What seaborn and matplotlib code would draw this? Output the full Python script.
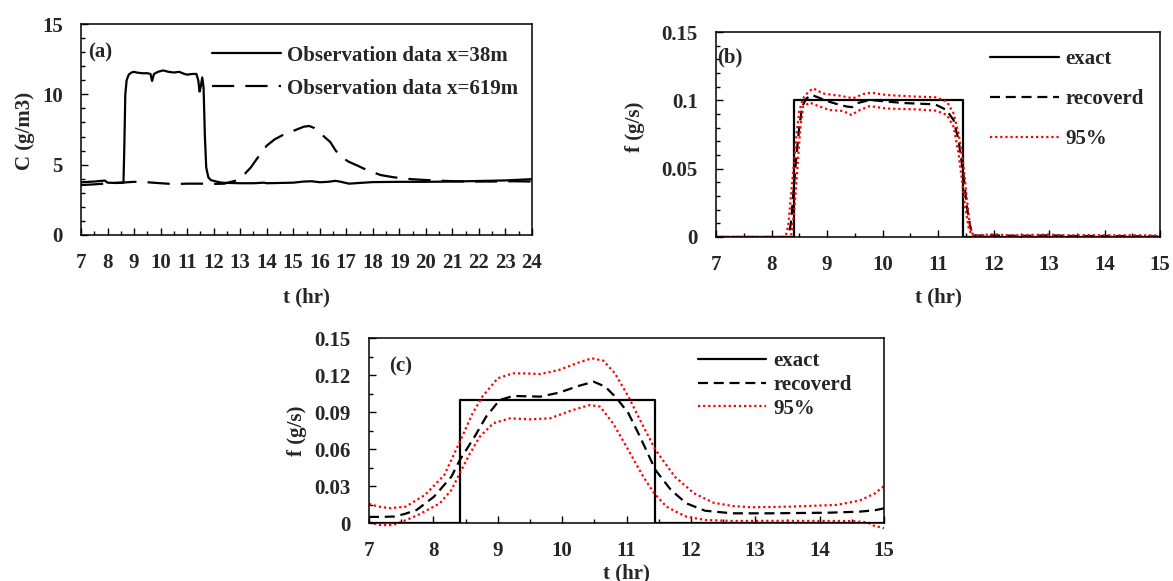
import numpy as np
import pandas as pd
import matplotlib
matplotlib.use("Agg")
import matplotlib.pyplot as plt
import seaborn as sns
from matplotlib.ticker import MultipleLocator, FuncFormatter

# ---------------- data ----------------
# Panel (a): observation data
a_t38 = [7.0, 7.5, 7.9, 8.0, 8.3, 8.6, 8.63, 8.67, 8.72, 8.8, 8.9, 9.0, 9.1, 9.3, 9.5, 9.62, 9.68,
         9.75, 9.9, 10.0, 10.1, 10.3, 10.5, 10.7, 10.9, 11.0, 11.2, 11.35, 11.42, 11.47, 11.52, 11.57,
         11.62, 11.67, 11.72, 11.8, 11.9, 12.1, 12.3, 12.6, 13.0, 13.5, 13.9, 14.0, 14.5, 15.0, 15.4,
         15.7, 16.0, 16.3, 16.6, 16.8, 17.1, 17.5, 18.0, 19.0, 20.0, 21.0, 22.0, 23.0, 24.0]
a_c38 = [3.75, 3.8, 3.87, 3.72, 3.7, 3.72, 6.0, 10.0, 11.0, 11.4, 11.55, 11.6, 11.55, 11.5, 11.5, 11.45, 10.95,
         11.45, 11.6, 11.65, 11.7, 11.6, 11.55, 11.6, 11.45, 11.4, 11.45, 11.45, 11.0, 10.2, 10.6, 11.2,
         10.5, 7.0, 4.8, 4.1, 3.9, 3.8, 3.72, 3.7, 3.68, 3.68, 3.72, 3.68, 3.7, 3.72, 3.8,
         3.82, 3.75, 3.78, 3.85, 3.78, 3.65, 3.7, 3.76, 3.78, 3.78, 3.8, 3.84, 3.88, 3.97]
a_t619 = [7.0, 7.5, 8.0, 8.5, 9.0, 9.5, 10.0, 10.5, 11.0, 11.5, 12.0, 12.4, 12.8, 13.1, 13.4, 13.7, 14.0,
          14.3, 14.6, 15.0, 15.4, 15.6, 15.8, 16.1, 16.4, 16.6, 16.8, 17.1, 17.4, 17.8, 18.3, 18.8,
          19.5, 20.5, 21.5, 22.5, 23.3, 24.0]
a_c619 = [3.55, 3.6, 3.67, 3.72, 3.78, 3.75, 3.68, 3.62, 3.65, 3.65, 3.63, 3.65, 3.85, 4.2, 4.8, 5.6, 6.35,
          6.8, 7.1, 7.4, 7.7, 7.75, 7.6, 7.1, 6.6, 6.0, 5.55, 5.2, 4.95, 4.6, 4.26, 4.1,
          3.96, 3.86, 3.8, 3.8, 3.82, 3.8]

# Panel (b)
b_exact_t = [7.0, 8.41, 8.41, 11.45, 11.45, 15.0]
b_exact_f = [0.0, 0.0, 0.1, 0.1, 0.0, 0.0]
b_rec_t = [7.0, 8.3, 8.35, 8.4, 8.45, 8.5, 8.55, 8.62, 8.72, 8.85, 9.0, 9.2, 9.35, 9.45, 9.55, 9.7, 9.85,
           10.1, 10.4, 10.7, 10.95, 11.15, 11.28, 11.37, 11.47, 11.52, 11.58, 11.62, 11.7, 12.0, 12.5,
           13.0, 13.5, 14.0, 14.5, 15.0]
b_rec_f = [0.0, 0.0, 0.01, 0.035, 0.06, 0.08, 0.095, 0.101, 0.104, 0.102, 0.0995, 0.097, 0.0955, 0.095,
           0.098, 0.0995, 0.1, 0.099, 0.098, 0.0975, 0.097, 0.093, 0.0856, 0.071, 0.042, 0.022, 0.008,
           0.002, 0.001, 0.0012, 0.0008, 0.0012, 0.0006, 0.0008, 0.0005, 0.0005]
b_up_t = [7.0, 8.25, 8.3, 8.35, 8.4, 8.45, 8.5, 8.57, 8.66, 8.75, 8.93, 9.1, 9.23, 9.47, 9.65, 9.8, 10.07,
          10.61, 10.97, 11.16, 11.28, 11.37, 11.46, 11.52, 11.58, 11.64, 11.8, 12.0, 12.3, 12.6, 13.0,
          13.3, 13.7, 14.0, 14.4, 14.8, 15.0]
b_up_f = [0.0, 0.0, 0.008, 0.03, 0.052, 0.075, 0.092, 0.1015, 0.106, 0.1088, 0.105, 0.104, 0.1034, 0.1015,
          0.1046, 0.1056, 0.1039, 0.1027, 0.1022, 0.099, 0.0905, 0.0759, 0.052, 0.028, 0.0065, 0.001,
          0.0015, 0.002, 0.0012, 0.0015, 0.0018, 0.0012, 0.0014, 0.0012, 0.0013, 0.0012, 0.001]
b_lo_t = [7.0, 8.35, 8.4, 8.44, 8.48, 8.52, 8.57, 8.69, 8.87, 9.05, 9.29, 9.44, 9.59, 9.77, 10.07, 10.61,
          10.97, 11.16, 11.28, 11.37, 11.43, 11.49, 11.55, 11.61, 12.0, 15.0]
b_lo_f = [0.0, 0.0, 0.015, 0.035, 0.058, 0.08, 0.0954, 0.0983, 0.0954, 0.0929, 0.0922, 0.0893, 0.0929,
          0.0958, 0.094, 0.0934, 0.0924, 0.0893, 0.0807, 0.061, 0.042, 0.022, 0.007, 0.001, 0.0, 0.0]

# Panel (c)
c_exact_t = [7.0, 8.41, 8.41, 11.44, 11.44, 15.0]
c_exact_f = [0.0, 0.0, 0.1, 0.1, 0.0, 0.0]
c_rec_t = [7.0, 7.2, 7.39, 7.55, 7.74, 8.01, 8.28, 8.41, 8.64, 8.82, 9.03, 9.24, 9.45, 9.66, 9.95, 10.25,
           10.49, 10.67, 10.85, 11.03, 11.21, 11.45, 11.69, 11.93, 12.22, 12.64, 13.24, 14.14, 14.61,
           14.85, 15.0]
c_rec_f = [0.0052, 0.0052, 0.0055, 0.0075, 0.0108, 0.0216, 0.0378, 0.0513, 0.0702, 0.0865, 0.1, 0.1032,
           0.103, 0.1027, 0.1059, 0.1113, 0.1148, 0.1108, 0.1013, 0.0892, 0.0702, 0.0432, 0.027, 0.0162,
           0.0102, 0.0081, 0.0081, 0.0086, 0.0094, 0.0105, 0.0121]
c_up_t = [7.0, 7.15, 7.33, 7.57, 7.87, 8.17, 8.4, 8.61, 8.76, 9.0, 9.24, 9.45, 9.66, 9.95, 10.25, 10.46,
          10.64, 10.82, 11.03, 11.21, 11.45, 11.75, 12.05, 12.35, 12.65, 12.95, 13.54, 14.26, 14.62,
          14.86, 15.0]
c_up_f = [0.0157, 0.0135, 0.0122, 0.0135, 0.023, 0.0392, 0.0649, 0.0892, 0.1027, 0.1176, 0.1216, 0.1215,
          0.121, 0.1243, 0.1302, 0.1338, 0.1319, 0.1216, 0.1027, 0.0838, 0.0595, 0.0378, 0.0243, 0.0167,
          0.014, 0.013, 0.0135, 0.0149, 0.0184, 0.0243, 0.0303]
c_lo_t = [7.0, 7.17, 7.35, 7.5, 7.64, 7.79, 8.1, 8.28, 8.41, 8.57, 8.72, 8.93, 9.19, 9.5, 9.81, 10.17,
          10.43, 10.59, 10.79, 11.0, 11.26, 11.43, 11.62, 11.8, 11.93, 12.22, 12.64, 13.5, 14.5, 14.74,
          14.84, 15.0]
c_lo_f = [0.001, -0.0014, -0.0015, 0.001, 0.004, 0.0075, 0.0162, 0.027, 0.0405, 0.0568, 0.0702, 0.0811,
          0.0851, 0.0843, 0.0851, 0.0919, 0.0959, 0.0946, 0.0811, 0.0621, 0.0378, 0.0243, 0.0135, 0.0086,
          0.0054, 0.0027, 0.0019, 0.002, 0.0018, 0.0008, -0.0019, -0.004]

legend_a = ["Observation data x=38m", "Observation data x=619m"]
legend_bc = ["exact", "recoverd", "95%"]

# ---------------- style ----------------
sns.set_theme(style="white")
plt.rcParams["font.family"] = ["Liberation Serif", "DejaVu Serif"]
plt.rcParams["font.weight"] = "bold"
plt.rcParams["axes.labelweight"] = "bold"
FS = 15

fig = plt.figure(figsize=(11.73, 5.81), dpi=100)
ax_a = fig.add_axes([81 / 1173, 1 - 235 / 581, 451 / 1173, 211 / 581])
ax_b = fig.add_axes([716 / 1173, 1 - 237 / 581, 444 / 1173, 205 / 581])
ax_c = fig.add_axes([369 / 1173, 1 - 523.3 / 581, 515 / 1173, 185 / 581])

SOLID = dict(color="black", lw=1.6, linestyle="-")
DASH = dict(color="black", lw=1.6, linestyle=(0, (4.5, 2.6)))
DOT = dict(color="#ff0000", lw=1.6, linestyle=(0, (1, 1.3)))


def line(ax, x, y, label=None, clip=True, **kw):
    sns.lineplot(x=x, y=y, ax=ax, estimator=None, sort=False, label=label, **kw)
    ax.lines[-1].set_clip_on(clip)


# Panel (a)
line(ax_a, a_t38, a_c38, label=legend_a[0], color="black", lw=1.6)
line(ax_a, a_t619, a_c619, label=legend_a[1], color="black", lw=1.6, linestyle=(0, (10, 5)))

# Panel (b)
line(ax_b, b_exact_t, b_exact_f, label=legend_bc[0], **SOLID)
line(ax_b, b_rec_t, b_rec_f, label=legend_bc[1], **DASH)
line(ax_b, b_up_t, b_up_f, label=legend_bc[2], **DOT)
line(ax_b, b_lo_t, b_lo_f, **DOT)

# Panel (c)
line(ax_c, c_exact_t, c_exact_f, label=legend_bc[0], **SOLID)
line(ax_c, c_rec_t, c_rec_f, label=legend_bc[1], **DASH)
line(ax_c, c_up_t, c_up_f, label=legend_bc[2], clip=False, **DOT)
line(ax_c, c_lo_t, c_lo_f, clip=False, **DOT)

# axes formatting
fmt = FuncFormatter(lambda v, p: ("%g" % round(v, 4)))
# (ax, xlim, ylim, xmaj, xmin, ymaj, ymin, ylabel, ylabel pos, xlabel y, tag, tag pos)
cfg = [
    (ax_a, (7, 24), (0, 15), 1, 0.5, 5, 1, "C (g/m3)", (-0.125, 0.493), -0.294, "(a)", (0.016, 0.867)),
    (ax_b, (7, 15), (0, 0.15), 1, 0.5, 0.05, 0.01, "f (g/s)", (-0.182, 0.537), -0.293, "(b)", (0.002, 0.878)),
    (ax_c, (7, 15), (0, 0.15), 1, 0.5, 0.03, 0.015, "f (g/s)", (-0.14, 0.5), -0.269, "(c)", (0.039, 0.845)),
]
for ax, xl, yl, xmaj, xmin, ymaj, ymin, ylab, ylpos, xly, tag, tpos in cfg:
    ax.set_xlim(*xl)
    ax.set_ylim(*yl)
    ax.xaxis.set_major_locator(MultipleLocator(xmaj))
    ax.xaxis.set_minor_locator(MultipleLocator(xmin))
    ax.yaxis.set_major_locator(MultipleLocator(ymaj))
    ax.yaxis.set_minor_locator(MultipleLocator(ymin))
    ax.yaxis.set_major_formatter(fmt)
    ax.tick_params(which="both", direction="in", color="black", width=1.0,
                   bottom=True, left=True, top=False, right=False, labelsize=FS)
    ax.tick_params(which="major", length=5)
    ax.tick_params(which="minor", length=3)
    ax.tick_params(axis="x", which="major", pad=13)
    ax.tick_params(axis="y", which="major", pad=13)
    for lab in ax.get_xticklabels() + ax.get_yticklabels():
        lab.set_fontweight("bold")
    for s in ax.spines.values():
        s.set_visible(True)
        s.set_color("black")
        s.set_linewidth(1.1)
    ax.set_xlabel("t (hr)", fontsize=FS, fontweight="bold")
    ax.set_ylabel(ylab, fontsize=FS, fontweight="bold")
    ax.xaxis.set_label_coords(0.5, xly)
    ax.xaxis.label.set_verticalalignment("center")
    ax.yaxis.set_label_coords(ylpos[0], ylpos[1])
    ax.yaxis.label.set_verticalalignment("center")
    ax.text(tpos[0], tpos[1], tag, transform=ax.transAxes, fontsize=FS,
            fontweight="bold", ha="left", va="center")

leg_common = dict(frameon=False, prop={"size": FS, "weight": "bold"}, handlelength=3.3,
                  handletextpad=0.33, borderpad=0, borderaxespad=0, loc="upper left")
ax_a.legend(bbox_to_anchor=(0.29, 0.897), labelspacing=0.62, **leg_common)
ax_b.legend(bbox_to_anchor=(0.617, 0.915), labelspacing=0.95, **leg_common)
ax_c.legend(bbox_to_anchor=(0.638, 0.93), labelspacing=0.18, **leg_common)

fig.savefig("out.png", dpi=100)
